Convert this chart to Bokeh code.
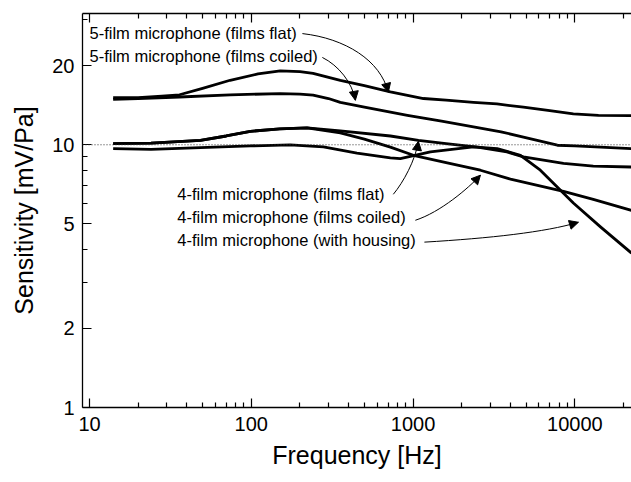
from bokeh.plotting import figure
from bokeh.models import (Range1d, FixedTicker, LogAxis, Span, NumeralTickFormatter,
                          Arrow, NormalHead)
from bokeh.core.properties import value
from bokeh.embed import file_html
from bokeh.resources import INLINE

# ---------------- data ----------------
# 5-film microphone (films flat)
f_5flat = [14, 20, 28, 36, 50, 74, 110, 151, 200, 241, 355, 500, 724, 1159, 1600,
           2362, 3300, 4810, 7000, 9790, 14000, 22400]
s_5flat = [15.1, 15.1, 15.3, 15.5, 16.4, 17.6, 18.6, 19.1, 19.0, 18.7, 17.6, 16.8, 15.9,
           15.0, 14.8, 14.5, 14.3, 13.9, 13.5, 13.1, 12.95, 12.9]
# 5-film microphone (films coiled)
f_5coil = [14, 20, 36, 74, 151, 200, 241, 300, 355, 500, 923, 1500, 2362, 3500, 4810,
           7800, 10000, 22400]
s_5coil = [14.9, 15.0, 15.2, 15.5, 15.65, 15.6, 15.45, 15.0, 14.5, 13.9, 12.95, 12.3,
           11.7, 11.2, 10.7, 9.96, 9.9, 9.67]
# 4-film microphone (films flat)
f_4flat = [14, 24, 48.5, 70, 98.6, 150, 221, 355, 724, 1080, 1600, 2500, 3800, 4810,
           8510, 13000, 22400]
s_4flat = [10.1, 10.15, 10.4, 10.8, 11.25, 11.5, 11.6, 11.3, 10.8, 10.4, 10.1, 9.8,
           9.4, 9.0, 8.5, 8.3, 8.23]
# 4-film microphone (films coiled)
f_4coil = [14, 24, 48.5, 70, 98.6, 150, 221, 355, 500, 724, 1005, 1600, 2608, 4000,
           8510, 13000, 22400]
s_4coil = [10.1, 10.15, 10.4, 10.8, 11.25, 11.5, 11.6, 11.1, 10.5, 9.8, 9.12, 8.55,
           8.0, 7.4, 6.65, 6.2, 5.63]
# 4-film microphone (with housing)
f_4hous = [14, 24, 48.5, 98.6, 174, 279, 450, 724, 834, 1280, 2362, 3310, 4610, 6120,
           9790, 14400, 22400]
s_4hous = [9.67, 9.6, 9.75, 9.9, 10.0, 9.81, 9.3, 8.91, 8.86, 9.4, 9.81, 9.67, 9.12,
           8.0, 6.0, 4.87, 3.87]

x_major = [10, 100, 1000, 10000]
y_major = [1, 2, 5, 10, 20]
y_minor = [3, 4, 6, 7, 8, 9, 30]
reference_level = 10

labels = ["5-film microphone (films flat)", "5-film microphone (films coiled)",
          "4-film microphone (films flat)", "4-film microphone (films coiled)",
          "4-film microphone (with housing)"]

# ---------------- annotation geometry (data units) ----------------
label_x = [10, 10, 34.9, 34.9, 34.9]
label_y = [26.7, 21.76, 6.51, 5.32, 4.335]
# cubic bezier arrows: start, control 0, control 1, tip
arrows = [
    ((207, 26.5), (381, 25.4), (628, 20.96), (703, 15.84)),
    ((275, 21.5), (345, 20.06), (421, 17.28), (440, 14.77)),
    ((755, 6.48), (871, 7.20), (1033, 8.73), (1079, 10.31)),
    ((1033, 5.16), (1476, 5.54), (2198, 6.83), (2608, 7.66)),
    ((1175, 4.26), (3006, 4.41), (6577, 4.65), (10520, 5.07)),
]

FONT = "Liberation Sans"

p = figure(width=631, height=482, x_axis_type="log", y_axis_type="log",
           x_range=Range1d(9.05, 22400), y_range=Range1d(1, 31.6),
           output_backend="svg", toolbar_location=None,
           min_border_left=82, min_border_right=0, min_border_top=13,
           min_border_bottom=75)
p.outline_line_color = None
p.xgrid.visible = False
p.ygrid.visible = False
p.background_fill_color = "white"
p.border_fill_color = "white"

x_minor = [m * d for d in [10, 100, 1000, 10000] for m in range(2, 10)]
xt = FixedTicker(ticks=x_major, minor_ticks=x_minor)
yt = FixedTicker(ticks=y_major, minor_ticks=y_minor)

for ax in p.xaxis:
    ax.ticker = xt
for ax in p.yaxis:
    ax.ticker = yt

for ax in list(p.xaxis) + list(p.yaxis):
    ax.formatter = NumeralTickFormatter(format="0")
    ax.major_tick_in = 9
    ax.major_tick_out = 0
    ax.minor_tick_in = 5
    ax.minor_tick_out = 0
    ax.axis_line_width = 1.3
    ax.major_tick_line_width = 1.2
    ax.minor_tick_line_width = 1.2
    ax.major_label_text_font = FONT
    ax.major_label_text_font_size = "20px"
    ax.major_label_text_color = "black"
    ax.axis_label_text_font = FONT
    ax.axis_label_text_font_size = "25px"
    ax.axis_label_text_font_style = "normal"
    ax.axis_label_text_color = "black"

p.xaxis.axis_label = "Frequency [Hz]"
p.yaxis.axis_label = "Sensitivity [mV/Pa]"
p.xaxis.major_label_standoff = 9
p.xaxis.axis_label_standoff = 7
p.yaxis.major_label_standoff = 8
p.yaxis.axis_label_standoff = 11

top = LogAxis(ticker=xt, major_tick_in=9, major_tick_out=0, minor_tick_in=5,
              minor_tick_out=0, major_label_text_font_size="2px",
              major_label_text_alpha=0,
              major_label_standoff=0, axis_line_width=1.3,
              major_tick_line_width=1.2, minor_tick_line_width=1.2)
p.add_layout(top, "above")

p.add_layout(Span(location=reference_level, dimension="width", line_color="#333333",
                  line_dash="1 2", line_width=1))

for f, s in [(f_5flat, s_5flat), (f_5coil, s_5coil), (f_4flat, s_4flat),
             (f_4coil, s_4coil), (f_4hous, s_4hous)]:
    p.line(f, s, line_color="black", line_width=2.8, line_join="round")

p.text(x=label_x, y=label_y, text=labels, text_font=value(FONT),
       text_font_size="16.5px", text_align="left", text_baseline="alphabetic",
       text_color="black")

for (p0, c0, c1, p3) in arrows:
    p.bezier(x0=[p0[0]], y0=[p0[1]], x1=[p3[0]], y1=[p3[1]],
             cx0=[c0[0]], cy0=[c0[1]], cx1=[c1[0]], cy1=[c1[1]],
             line_color="black", line_width=1)
    p.add_layout(Arrow(end=NormalHead(size=9, fill_color="black", line_color="black",
                                      line_width=1),
                       x_start=c1[0], y_start=c1[1], x_end=p3[0], y_end=p3[1],
                       line_alpha=0))

open("out.html", "w").write(file_html(p, INLINE))
